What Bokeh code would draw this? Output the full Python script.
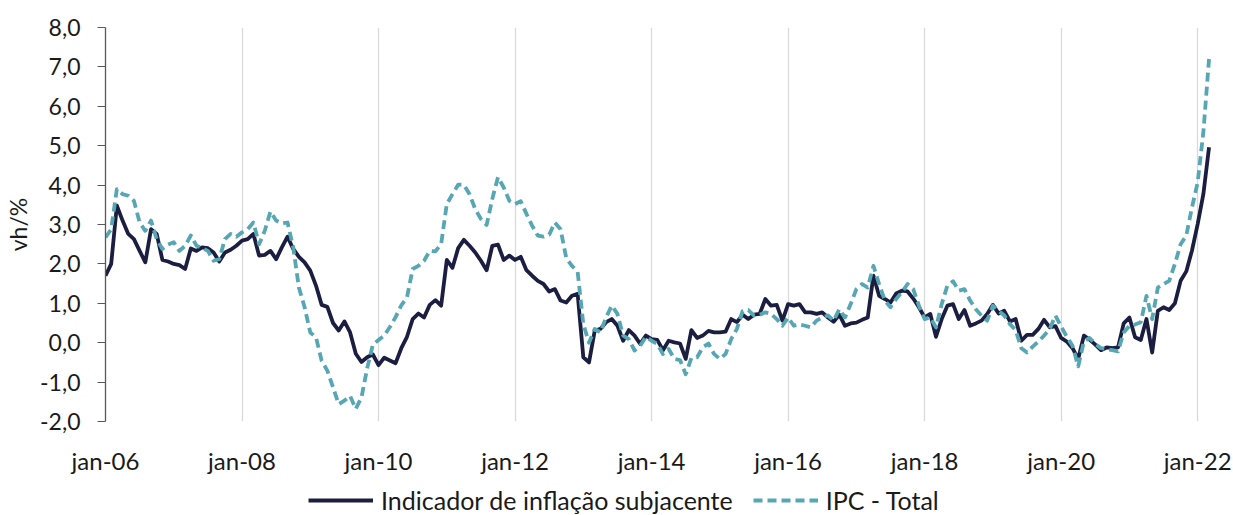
import numpy as np
from bokeh.plotting import figure
from bokeh.layouts import column
from bokeh.models import (Range1d, FixedTicker, CustomJSTickFormatter, Legend, LegendItem,
                          ColumnDataSource)
from bokeh.embed import file_html
from bokeh.resources import INLINE

# ---- data (monthly, year-on-year %, starting jan-06) ----
core = [1.70, 2.00, 3.48, 3.10, 2.76, 2.63, 2.33, 2.04, 2.88, 2.76, 2.10, 2.06,
        2.00, 1.97, 1.87, 2.39, 2.33, 2.42, 2.40, 2.29, 2.06, 2.29, 2.36, 2.46,
        2.59, 2.63, 2.76, 2.21, 2.23, 2.33, 2.12, 2.42, 2.69, 2.38, 2.18, 2.04,
        1.83, 1.45, 0.96, 0.91, 0.50, 0.31, 0.54, 0.26, -0.28, -0.49, -0.37, -0.30,
        -0.57, -0.38, -0.45, -0.52, -0.14, 0.15, 0.60, 0.74, 0.64, 0.96, 1.08, 0.94,
        2.10, 1.90, 2.40, 2.61, 2.46, 2.29, 2.08, 1.84, 2.46, 2.49, 2.10, 2.21,
        2.10, 2.18, 1.84, 1.70, 1.57, 1.49, 1.30, 1.36, 1.07, 1.02, 1.19, 1.24,
        -0.37, -0.50, 0.30, 0.35, 0.52, 0.60, 0.43, 0.05, 0.32, 0.18, -0.03, 0.18,
        0.09, 0.07, -0.19, 0.05, 0.01, -0.02, -0.41, 0.32, 0.12, 0.18, 0.30, 0.26,
        0.26, 0.28, 0.60, 0.52, 0.71, 0.60, 0.71, 0.73, 1.11, 0.94, 0.96, 0.56,
        0.98, 0.94, 0.98, 0.77, 0.77, 0.73, 0.77, 0.64, 0.53, 0.71, 0.43, 0.49,
        0.51, 0.58, 0.64, 1.70, 1.19, 1.11, 1.02, 1.25, 1.32, 1.30, 1.12, 0.90,
        0.64, 0.73, 0.15, 0.60, 0.94, 0.98, 0.60, 0.83, 0.43, 0.49, 0.56, 0.73,
        0.96, 0.74, 0.81, 0.54, 0.60, 0.05, 0.20, 0.20, 0.35, 0.58, 0.39, 0.42,
        0.12, 0.03, -0.14, -0.41, 0.18, 0.08, -0.05, -0.19, -0.12, -0.14, -0.12, 0.49,
        0.64, 0.14, 0.07, 0.60, -0.25, 0.81, 0.90, 0.83, 1.00, 1.57, 1.81, 2.34,
        3.01, 3.77, 4.96]

ipc = [2.67, 2.88, 3.90, 3.77, 3.73, 3.60, 3.05, 2.84, 3.10, 2.63, 2.38, 2.49,
       2.55, 2.33, 2.46, 2.72, 2.46, 2.40, 2.33, 2.08, 2.12, 2.63, 2.76, 2.69,
       2.80, 2.88, 3.05, 2.50, 2.84, 3.33, 3.10, 3.03, 3.05, 2.42, 1.40, 0.90,
       0.26, 0.14, -0.46, -0.71, -1.13, -1.56, -1.47, -1.35, -1.68, -1.39, -0.65, -0.05,
       0.07, 0.18, 0.40, 0.65, 0.95, 1.15, 1.87, 1.95, 2.08, 2.33, 2.32, 2.50,
       3.52, 3.77, 4.01, 4.01, 3.77, 3.39, 3.14, 2.99, 3.65, 4.20, 3.94, 3.60,
       3.52, 3.59, 3.27, 2.97, 2.72, 2.69, 2.74, 3.05, 2.88, 2.15, 1.95, 1.80,
       0.47, 0.00, 0.35, 0.26, 0.64, 0.94, 0.73, 0.18, 0.09, -0.20, -0.08, 0.15,
       0.05, -0.03, -0.29, -0.16, -0.41, -0.44, -0.80, -0.39, -0.37, -0.12, -0.02, -0.29,
       -0.41, -0.29, 0.09, 0.35, 0.80, 0.83, 0.69, 0.71, 0.77, 0.73, 0.60, 0.43,
       0.64, 0.43, 0.46, 0.43, 0.39, 0.56, 0.64, 0.69, 0.56, 0.85, 0.64, 0.98,
       1.36, 1.49, 1.40, 1.95, 1.49, 1.07, 0.90, 1.11, 1.28, 1.49, 1.36, 0.94,
       0.60, 0.64, 0.39, 0.98, 1.45, 1.56, 1.32, 1.36, 1.07, 0.85, 0.69, 0.56,
       0.94, 0.81, 0.69, 0.47, 0.32, -0.14, -0.25, -0.10, 0.03, 0.18, 0.35, 0.69,
       0.41, 0.15, -0.08, -0.60, 0.03, 0.12, -0.03, -0.14, -0.16, -0.19, -0.22, 0.26,
       0.43, 0.46, 0.52, 1.19, 0.60, 1.40, 1.49, 1.57, 2.00, 2.50, 2.72, 3.43,
       4.07, 5.34, 7.20]

tick_labels = ["jan-06", "jan-08", "jan-10", "jan-12", "jan-14",
               "jan-16", "jan-18", "jan-20", "jan-22"]
y_ticks = [-2, -1, 0, 1, 2, 3, 4, 5, 6, 7, 8]
series_names = ["Indicador de inflação subjacente", "IPC - Total"]

FONT = "Lato"
NAVY = "#1B1E40"
TEAL = "#57A6B3"
TXT = "#1a1a1a"

months = np.arange(len(core))
src = ColumnDataSource(dict(m=months, core=core, ipc=ipc))
x_ticks = [24 * i for i in range(len(tick_labels))]

# ---------------- main chart ----------------
p = figure(width=1233, height=477, output_backend="svg", toolbar_location=None,
           x_range=Range1d(0, 198.3), y_range=Range1d(-2, 8))
p.min_border_left = 105
p.min_border_right = 0
p.min_border_top = 27
p.min_border_bottom = 56
p.outline_line_color = None
p.background_fill_color = "white"
p.border_fill_color = "white"

p.ygrid.grid_line_color = None
p.xgrid.ticker = FixedTicker(ticks=x_ticks)
p.xgrid.grid_line_color = "#D9D9D9"
p.xgrid.grid_line_width = 1.3

p.xaxis.ticker = FixedTicker(ticks=x_ticks)
p.xaxis.major_label_overrides = {t: lab for t, lab in zip(x_ticks, tick_labels)}
p.xaxis.axis_line_color = None
p.xaxis.major_tick_line_color = None
p.xaxis.major_tick_out = 0
p.xaxis.minor_tick_line_color = None
p.xaxis.major_label_standoff = 24
p.xaxis.major_label_text_font = FONT
p.xaxis.major_label_text_font_size = "24px"
p.xaxis.major_label_text_color = TXT

p.yaxis.ticker = FixedTicker(ticks=y_ticks)
p.yaxis.formatter = CustomJSTickFormatter(code="return tick.toFixed(1).replace('.', ',');")
p.yaxis.axis_line_color = "#595959"
p.yaxis.axis_line_width = 1.3
p.yaxis.major_tick_line_color = "#595959"
p.yaxis.major_tick_out = 8
p.yaxis.major_tick_in = 0
p.yaxis.minor_tick_line_color = None
p.yaxis.major_label_standoff = 17
p.yaxis.major_label_text_font = FONT
p.yaxis.major_label_text_font_size = "23px"
p.yaxis.major_label_text_color = TXT
p.yaxis.axis_label = "vh/%"
p.yaxis.axis_label_text_font = FONT
p.yaxis.axis_label_text_font_size = "23px"
p.yaxis.axis_label_text_font_style = "normal"
p.yaxis.axis_label_text_color = TXT
p.yaxis.axis_label_standoff = 5

p.line("m", "core", source=src, line_color=NAVY, line_width=3.8, line_join="round")
p.line("m", "ipc", source=src, line_color=TEAL, line_width=3.8,
       line_dash="9 5", line_join="round")

# ---------------- legend strip ----------------
lg = figure(width=1233, height=38, output_backend="svg", toolbar_location=None,
            x_range=Range1d(0, 1), y_range=Range1d(0, 1),
            x_axis_type=None, y_axis_type=None)
lg.min_border_left = 0
lg.min_border_right = 0
lg.min_border_top = 0
lg.min_border_bottom = 0
lg.outline_line_color = None
lg.grid.visible = False
# off-range placeholder renderers, only used for the legend swatches
dummy = ColumnDataSource(dict(x=[-10, -9], y=[-10, -10]))
l1 = lg.line("x", "y", source=dummy, line_color=NAVY, line_width=3.8)
l2 = lg.line("x", "y", source=dummy, line_color=TEAL, line_width=3.8, line_dash="9 5")

legend = Legend(items=[LegendItem(label=series_names[0], renderers=[l1]),
                       LegendItem(label=series_names[1], renderers=[l2])],
                orientation="horizontal", location=(203, 0))
legend.label_text_font = FONT
legend.label_text_font_size = "25px"
legend.label_text_color = TXT
legend.glyph_width = 65
legend.glyph_height = 22
legend.label_height = 24
legend.spacing = 20
legend.margin = 0
legend.padding = 2
legend.label_standoff = 8
legend.border_line_color = None
legend.background_fill_alpha = 0
lg.add_layout(legend, "center")

layout = column(p, lg, spacing=0)
open("out.html", "w").write(file_html(layout, INLINE))
